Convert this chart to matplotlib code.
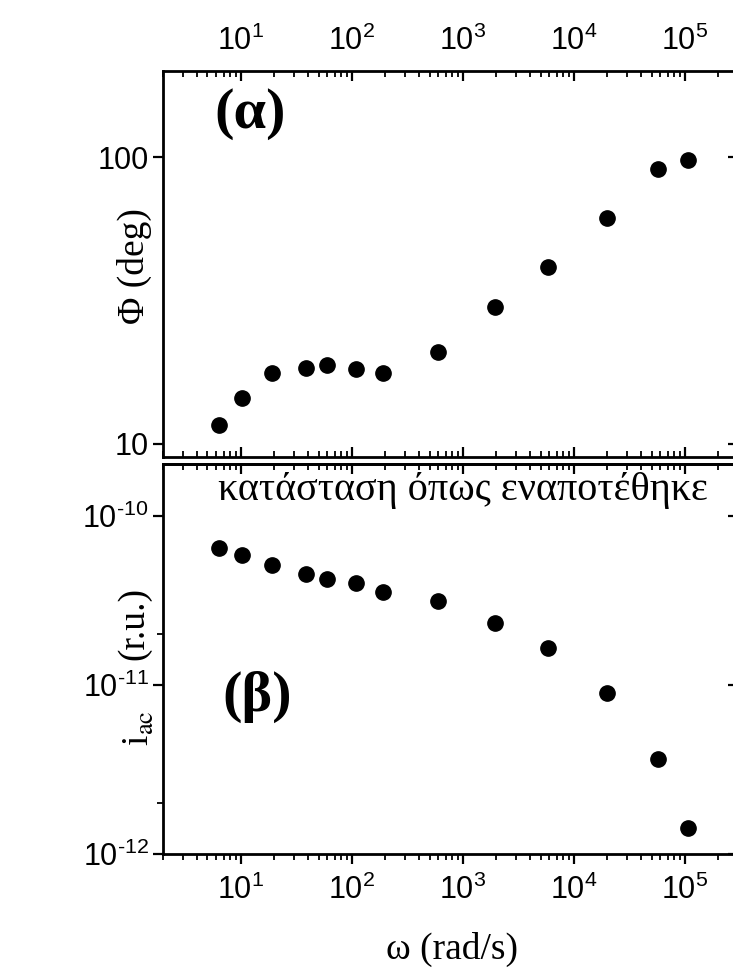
import math
import matplotlib
matplotlib.use("Agg")
import matplotlib.pyplot as plt
from matplotlib.ticker import (LogLocator, NullFormatter, FixedLocator, FuncFormatter)

# Angular frequency (rad/s) and measured quantities
omega = [6.3, 10.2, 18.9, 38.4, 60, 108, 192, 593, 1950, 5880, 20000, 57500, 106000]
phase_deg = [11.6, 14.5, 17.7, 18.4, 18.8, 18.2, 17.7, 20.9, 30.1, 41.3, 61.1, 90.8, 97.7]
i_ac = [6.53e-11, 5.93e-11, 5.13e-11, 4.54e-11, 4.24e-11, 4.02e-11, 3.57e-11,
        3.15e-11, 2.34e-11, 1.65e-11, 8.93e-12, 3.63e-12, 1.42e-12]

x_range = (2, 3e5)
phase_range = (9, 200)
iac_range = (1e-12, 2.04e-10)
phase_ticks = [10, 100]
iac_ticks = [1e-12, 1e-11, 1e-10]
iac_minor = [2e-12, 2e-11]

plt.rcParams.update({
    "font.family": ["Liberation Sans", "DejaVu Sans"],
    "mathtext.fontset": "custom",
    "mathtext.rm": "Liberation Sans",
    "mathtext.it": "Liberation Sans:italic",
    "mathtext.bf": "Liberation Sans:bold",
    "axes.linewidth": 2.0,
})

W, H = 733, 972
fig = plt.figure(figsize=(W / 100, H / 100), dpi=100)


def frac(x0, y0, x1, y1):
    return [x0 / W, 1 - y1 / H, (x1 - x0) / W, (y1 - y0) / H]


def fpos(x, y):
    return x / W, 1 - y / H


def power_label(v, pos=None):
    e = int(round(math.log10(v)))
    if e < 0:
        return r"$\mathdefault{10^{\text{-}%d}}$" % (-e)
    return r"$\mathdefault{10^{%d}}$" % e


ax1 = fig.add_axes(frac(163.3, 70.7, 738, 457))
ax2 = fig.add_axes(frac(163.3, 464, 738, 854))

tick_fs = 22
serif = ["Liberation Serif", "DejaVu Serif"]
major_kw = dict(length=7, width=1.6)
minor_kw = dict(length=4, width=1.3)


def log_x(axis):
    axis.set_major_locator(LogLocator(base=10, numticks=20))
    axis.set_minor_locator(LogLocator(base=10, subs=range(2, 10), numticks=50))
    axis.set_minor_formatter(NullFormatter())


for ax in (ax1, ax2):
    ax.set_xscale("log")
    ax.set_yscale("log")
    ax.set_xlim(*x_range)
    log_x(ax.xaxis)
    ax.xaxis.set_major_formatter(FuncFormatter(power_label))
    ax.tick_params(which="major", labelsize=tick_fs, **major_kw)
    ax.tick_params(which="minor", **minor_kw)
    ax.tick_params(axis="y", which="both", left=True, right=False, direction="out")
    ax.yaxis.set_minor_formatter(NullFormatter())

# upper panel: phase
ax1.plot(omega, phase_deg, "o", color="black", markersize=11, linestyle="none")
ax1.set_ylim(*phase_range)
ax1.yaxis.set_major_locator(FixedLocator(phase_ticks))
ax1.yaxis.set_major_formatter(FuncFormatter(lambda v, p: f"{v:g}"))
ax1.yaxis.set_minor_locator(FixedLocator([]))
ax1.tick_params(axis="x", which="both", top=True, bottom=True, labeltop=True,
                labelbottom=False, direction="in")
ax1.tick_params(axis="x", which="major", pad=10)

# lower panel: ac current
ax2.plot(omega, i_ac, "o", color="black", markersize=11, linestyle="none")
ax2.set_ylim(*iac_range)
ax2.yaxis.set_major_locator(FixedLocator(iac_ticks))
ax2.yaxis.set_major_formatter(FuncFormatter(power_label))
ax2.yaxis.set_minor_locator(FixedLocator(iac_minor))
ax2.tick_params(axis="x", which="both", top=False, bottom=True, labeltop=False,
                labelbottom=True, direction="out")
ax2.tick_params(axis="x", which="major", pad=8)

# inward ticks on the top edge of the lower panel
top2 = ax2.secondary_xaxis("top")
log_x(top2.xaxis)
top2.xaxis.set_major_formatter(NullFormatter())
top2.tick_params(which="major", direction="in", **major_kw)
top2.tick_params(which="minor", direction="in", **minor_kw)
top2.spines["top"].set_linewidth(2.0)

# inward major ticks on the right edge of both panels
for ax, ticks in ((ax1, phase_ticks), (ax2, iac_ticks)):
    right = ax.secondary_yaxis("right")
    right.yaxis.set_major_locator(FixedLocator(ticks))
    right.yaxis.set_minor_locator(FixedLocator([]))
    right.yaxis.set_major_formatter(NullFormatter())
    right.tick_params(which="major", direction="in", **major_kw)
    right.spines["right"].set_linewidth(2.0)

# axis titles
fig.text(*fpos(134, 266), "Φ (deg)", family=serif, fontsize=27, rotation=90,
         ha="center", va="center")
fig.text(*fpos(140, 728), r"i$_{\mathrm{ac}}$", family=serif, fontsize=27,
         rotation=90, ha="center", va="center", math_fontfamily="stix")
fig.text(*fpos(134, 624), "(r.u.)", family=serif, fontsize=27, rotation=90,
         ha="center", va="center")
fig.text(*fpos(452, 949), "ω (rad/s)", family=serif, fontsize=27,
         ha="center", va="center")

# panel tags and annotation
fig.text(*fpos(250, 114), "(α)", family=serif, fontweight="bold", fontsize=42,
         ha="center", va="center")
fig.text(*fpos(257, 697), "(β)", family=serif, fontweight="bold", fontsize=42,
         ha="center", va="center")
fig.text(*fpos(218, 490), "κατάσταση όπως εναποτέθηκε", family=serif, fontsize=29,
         ha="left", va="center")

fig.savefig("out.png", dpi=100)
